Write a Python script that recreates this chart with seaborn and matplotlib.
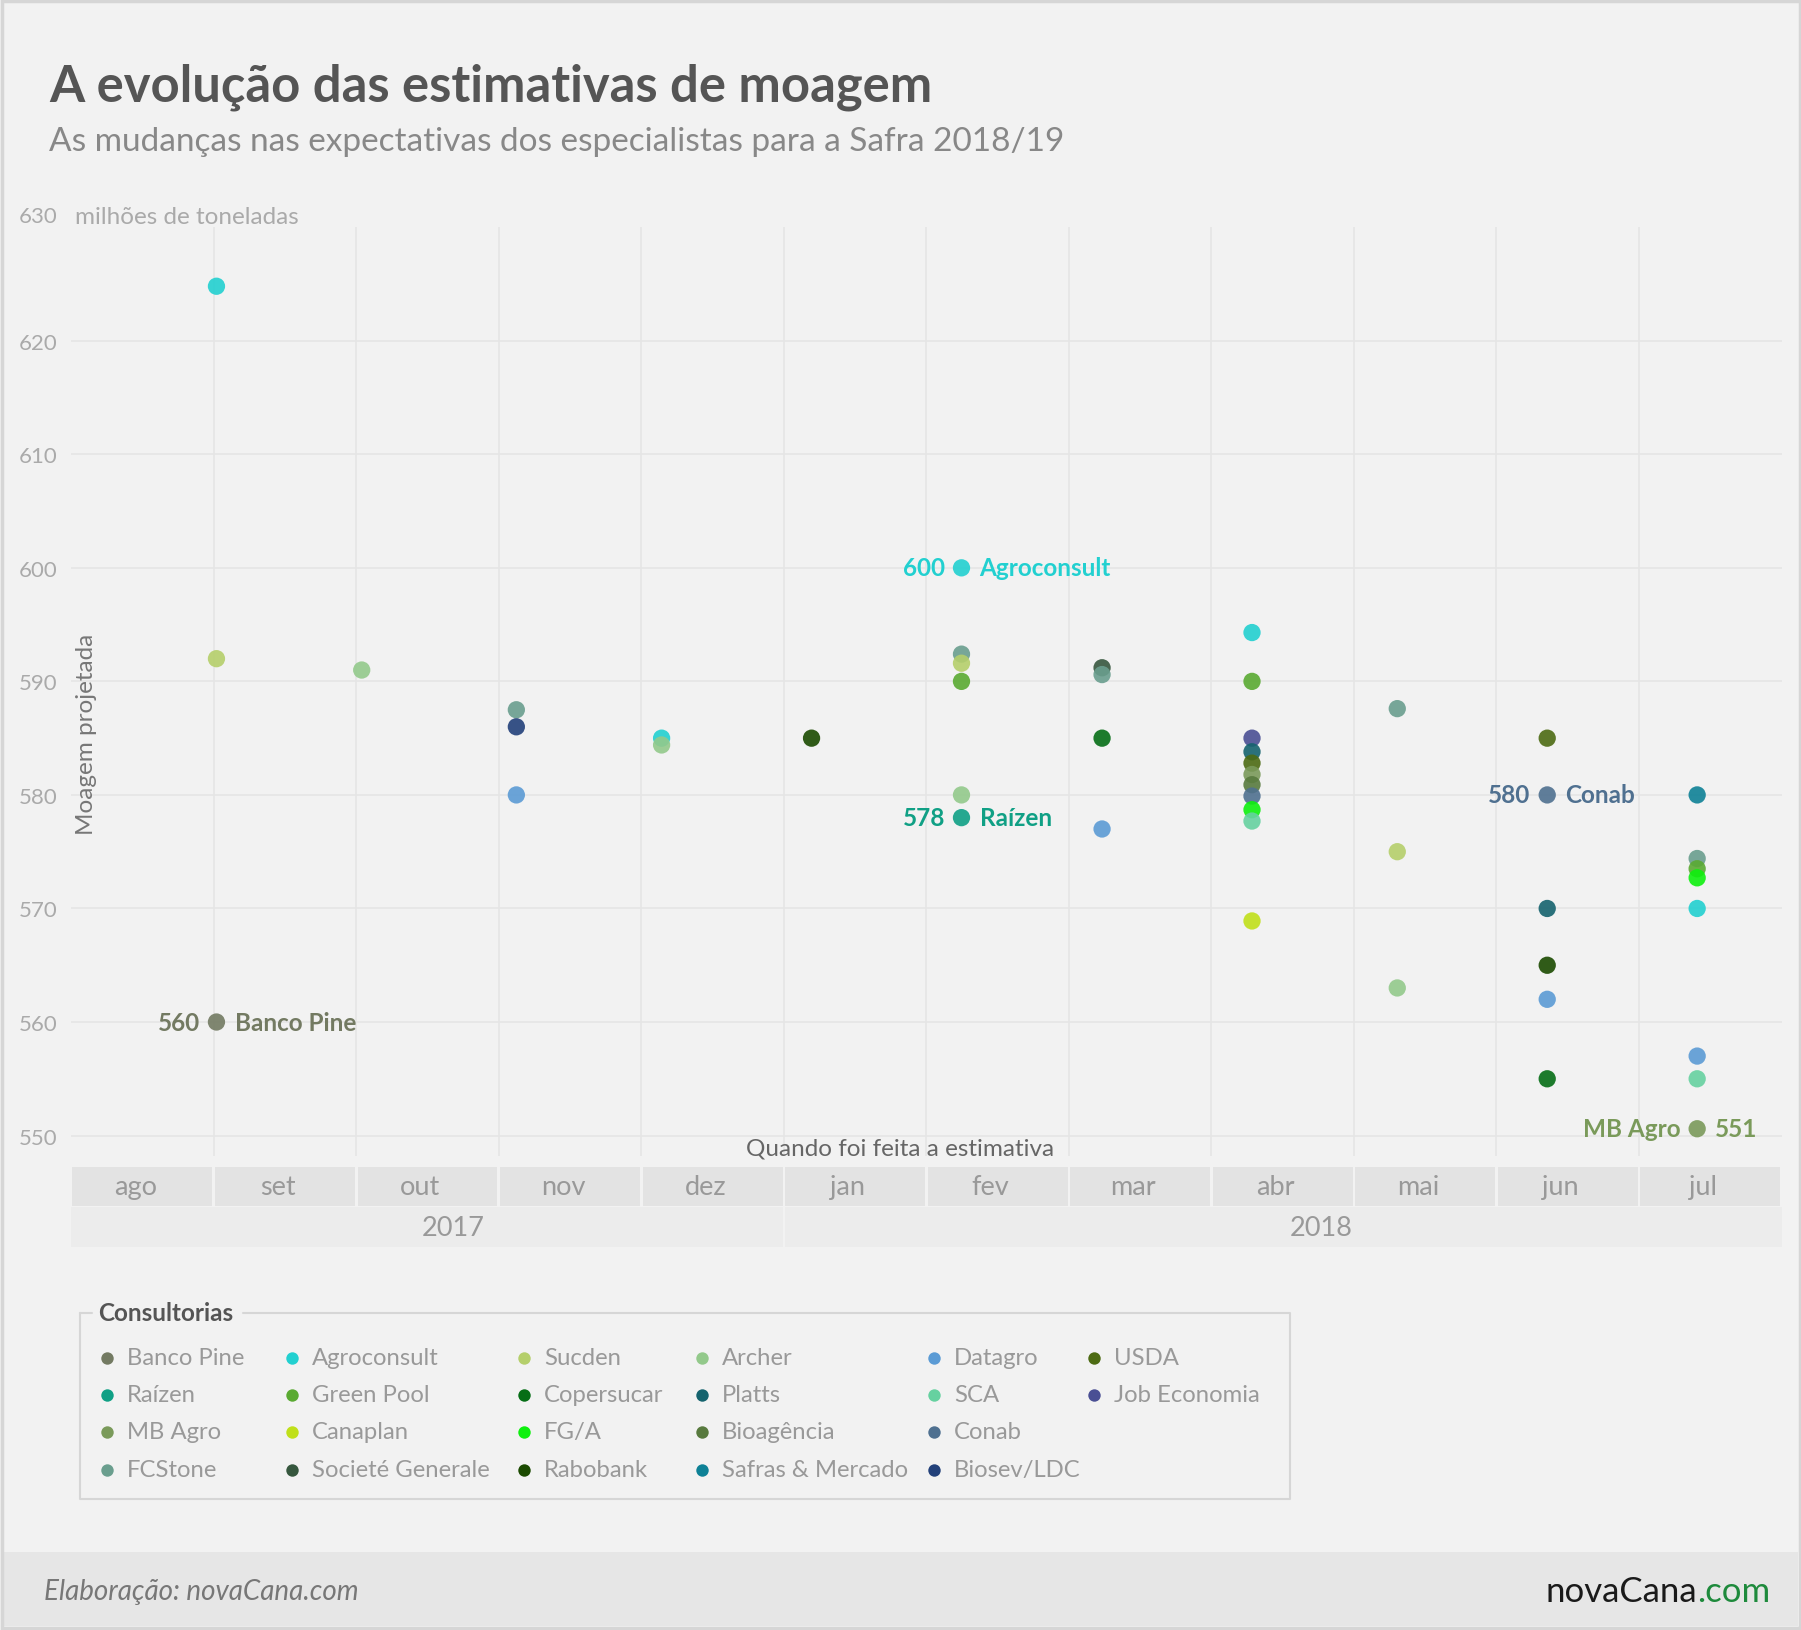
import pandas as pd
import numpy as np
import seaborn as sns
import matplotlib.pyplot as plt
import matplotlib.dates as mdates
from matplotlib.patches import Rectangle

# consultorias e cores da legenda
consultorias = ['Banco Pine', 'Agroconsult', 'Sucden', 'Archer', 'Datagro', 'USDA',
                'Raízen', 'Green Pool', 'Copersucar', 'Platts', 'SCA', 'Job Economia',
                'MB Agro', 'Canaplan', 'FG/A', 'Bioagência', 'Conab',
                'FCStone', 'Societé Generale', 'Rabobank', 'Safras & Mercado', 'Biosev/LDC']
cores = ['#737a62', '#22d0d0', '#b5cf6b', '#93c98b', '#5b9bd5', '#4d6b13',
         '#10a085', '#5aaa32', '#066e16', '#15636e', '#66d1a0', '#4a4f94',
         '#7a9a5a', '#c0e01a', '#0ef00e', '#587a3e', '#4f7090',
         '#6a9e8e', '#36573e', '#1b4a00', '#0e8196', '#23417a']

# estimativas (milhões de toneladas)
datas = ['2017-09-01', '2017-09-01', '2017-09-01',
         '2017-10-02',
         '2017-11-04', '2017-11-04', '2017-11-04',
         '2017-12-05', '2017-12-05',
         '2018-01-06',
         '2018-02-07', '2018-02-07', '2018-02-07', '2018-02-07', '2018-02-07', '2018-02-07',
         '2018-03-09', '2018-03-09', '2018-03-09', '2018-03-09',
         '2018-04-10', '2018-04-10', '2018-04-10', '2018-04-10', '2018-04-10', '2018-04-10',
         '2018-04-10', '2018-04-10', '2018-04-10', '2018-04-10', '2018-04-10',
         '2018-05-11', '2018-05-11', '2018-05-11',
         '2018-06-12', '2018-06-12', '2018-06-12', '2018-06-12', '2018-06-12', '2018-06-12',
         '2018-07-14', '2018-07-14', '2018-07-14', '2018-07-14', '2018-07-14', '2018-07-14',
         '2018-07-14', '2018-07-14']
nomes = ['Agroconsult', 'Sucden', 'Banco Pine',
         'Archer',
         'FCStone', 'Biosev/LDC', 'Datagro',
         'Agroconsult', 'Archer',
         'Rabobank',
         'Agroconsult', 'FCStone', 'Sucden', 'Green Pool', 'Archer', 'Raízen',
         'Societé Generale', 'FCStone', 'Copersucar', 'Datagro',
         'Agroconsult', 'Green Pool', 'Job Economia', 'Platts', 'USDA', 'MB Agro',
         'Bioagência', 'Conab', 'FG/A', 'SCA', 'Canaplan',
         'FCStone', 'Sucden', 'Archer',
         'USDA', 'Conab', 'Platts', 'Rabobank', 'Datagro', 'Copersucar',
         'Safras & Mercado', 'FCStone', 'Green Pool', 'FG/A', 'Agroconsult', 'Datagro',
         'SCA', 'MB Agro']
valores = [624.8, 592.0, 560.0,
           591.0,
           587.5, 586.0, 580.0,
           585.0, 584.4,
           585.0,
           600.0, 592.4, 591.6, 590.0, 580.0, 578.0,
           591.2, 590.6, 585.0, 577.0,
           594.3, 590.0, 585.0, 583.8, 582.8, 581.8,
           580.9, 579.9, 578.7, 577.7, 568.9,
           587.6, 575.0, 563.0,
           585.0, 580.0, 570.0, 565.0, 562.0, 555.0,
           580.0, 574.4, 573.5, 572.7, 570.0, 557.0,
           555.0, 550.6]

# pontos com rótulo: (consultoria, data, nome à esquerda?)
destaques = [('Banco Pine', '2017-09-01', False), ('Agroconsult', '2018-02-07', False),
             ('Raízen', '2018-02-07', False), ('Conab', '2018-06-12', False),
             ('MB Agro', '2018-07-14', True)]

meses = ['ago', 'set', 'out', 'nov', 'dez', 'jan', 'fev', 'mar', 'abr', 'mai', 'jun', 'jul']
anos = ['2017', '2018']

df = pd.DataFrame({'data': pd.to_datetime(datas), 'consultoria': nomes, 'valor': valores})
paleta = dict(zip(consultorias, cores))

sns.set_style('white')
plt.rcParams['font.family'] = ['Lato', 'DejaVu Sans']

W, H = 1801, 1631
fig = plt.figure(figsize=(W / 100, H / 100), dpi=100, facecolor='#f2f2f2')

# camada de fundo em pixels: título, rodapé, legenda
bg = fig.add_axes([0, 0, 1, 1], zorder=0)
bg.set_xlim(0, W)
bg.set_ylim(H, 0)
bg.axis('off')

bg.text(49, 87, 'A evolução das estimativas de moagem', fontsize=36.5, fontweight='bold',
        color='#555555', va='center')
bg.text(49, 142, 'As mudanças nas expectativas dos especialistas para a Safra 2018/19',
        fontsize=24, color='#888888', va='center')

bg.add_patch(Rectangle((3, 1553), W - 6, 74, color='#e6e6e6', lw=0))
bg.add_patch(Rectangle((1.5, 1.5), W - 3, H - 3, fill=False, ec='#d6d6d6', lw=2.5))
bg.text(44, 1592, 'Elaboração: novaCana.com', fontsize=20, style='italic',
        color='#777777', va='center')
com = bg.text(1770, 1592, '.com', fontsize=25, color='#1e8a3c', va='center', ha='right')
bg.annotate('novaCana', xy=(0, 0.5), xycoords=com, fontsize=25, color='#1a1a1a',
            va='center', ha='right')

# legenda manual
bx0, by0, bx1, by1 = 80, 1314, 1290, 1500
lc = '#d6d6d6'
bg.plot([bx0, 92], [by0, by0], color=lc, lw=1.5)
bg.plot([243, bx1, bx1, bx0, bx0], [by0, by0, by1, by1, by0], color=lc, lw=1.5)
bg.text(98, by0, 'Consultorias', fontsize=17.5, fontweight='bold', color='#555555',
        va='center')
col_x = [107, 292, 524, 702, 934, 1094]
row_y = [1359, 1396, 1433, 1471]
lin = [6, 6, 5, 5]
k = 0
for r, n in enumerate(lin):
    for c in range(n):
        bg.scatter(col_x[c], row_y[r], s=80, color=cores[k], lw=0)
        bg.text(col_x[c] + 20, row_y[r], consultorias[k], fontsize=17.2, color='#999999',
                va='center')
        k += 1

# gráfico principal
ax = fig.add_axes([71.2 / W, 1 - 1157 / H, 1710.3 / W, 928.8 / H], zorder=2)
ax.set_facecolor('none')
sns.scatterplot(data=df, x='data', y='valor', hue='consultoria', hue_order=consultorias,
                palette=paleta, s=155, alpha=0.9, linewidth=0, legend=False, ax=ax,
                zorder=3)

inicio, fim = pd.Timestamp('2017-08-01'), pd.Timestamp('2018-08-01')
ax.set_xlim(inicio, fim)
ax.set_ylim(548.2, 630)
fatias = np.linspace(mdates.date2num(inicio), mdates.date2num(fim), len(meses) + 1)
ax.set_xticks(fatias[1:-1])
ax.set_xticklabels([])
ax.set_yticks(range(550, 630, 10))
ax.tick_params(axis='both', length=0)
ax.tick_params(axis='y', pad=10, labelsize=16, labelcolor='#aaaaaa')
ax.grid(True, color='#e5e5e5', lw=1.2)
ax.set_axisbelow(True)
for s in ax.spines.values():
    s.set_visible(False)
ax.set_xlabel('')
ax.set_ylabel('')

ax.annotate('630', xy=(0, 630), xycoords=('axes fraction', 'data'), xytext=(-10, 8),
            textcoords='offset points', ha='right', va='center', fontsize=16,
            color='#aaaaaa')
ax.annotate('milhões de toneladas', xy=(0, 630), xycoords=('axes fraction', 'data'),
            xytext=(3, 8), textcoords='offset points', ha='left', va='center',
            fontsize=17.5, color='#aaaaaa')
ax.text(0.0088, 0.455, 'Moagem projetada', transform=ax.transAxes, rotation=90,
        fontsize=17.5, color='#777777', ha='center', va='center')
fig.text(0.5, 1 - 1149 / H, 'Quando foi feita a estimativa', fontsize=17.5,
         color='#666666', ha='center', va='center')

for nome, d, inverte in destaques:
    linha = df[(df['consultoria'] == nome) & (df['data'] == pd.Timestamp(d))].iloc[0]
    xy = (linha['data'], linha['valor'])
    cor = paleta[nome]
    esq, dir_ = (nome, f"{linha['valor']:.0f}") if inverte else (f"{linha['valor']:.0f}", nome)
    ax.annotate(esq, xy=xy, xytext=(-12, 0), textcoords='offset points', ha='right',
                va='center', fontsize=17.5, fontweight='bold', color=cor)
    ax.annotate(dir_, xy=xy, xytext=(13, 0), textcoords='offset points', ha='left',
                va='center', fontsize=17.5, fontweight='bold', color=cor)

# faixas de meses e anos
bax = fig.add_axes([71.2 / W, 1 - 1248 / H, 1710.3 / W, 80 / H], zorder=1)
bax.set_xlim(0, len(meses))
bax.set_ylim(0, 80)
bax.axis('off')
g = 0.009
for i, m in enumerate(meses):
    bax.add_patch(Rectangle((i + g, 41), 1 - 2 * g, 39, color='#e3e3e3', lw=0))
    bax.text(i + 0.45, 60, m, fontsize=19.5, color='#999999', ha='center', va='center')
bax.add_patch(Rectangle((0, 0), 5 - g, 40, color='#ececec', lw=0))
bax.add_patch(Rectangle((5 + g, 0), 7 - g, 40, color='#ececec', lw=0))
bax.text(2.68, 19, anos[0], fontsize=19.5, color='#999999', ha='center', va='center')
bax.text(8.77, 19, anos[1], fontsize=19.5, color='#999999', ha='center', va='center')

fig.savefig('out.png', dpi=100, facecolor=fig.get_facecolor())
